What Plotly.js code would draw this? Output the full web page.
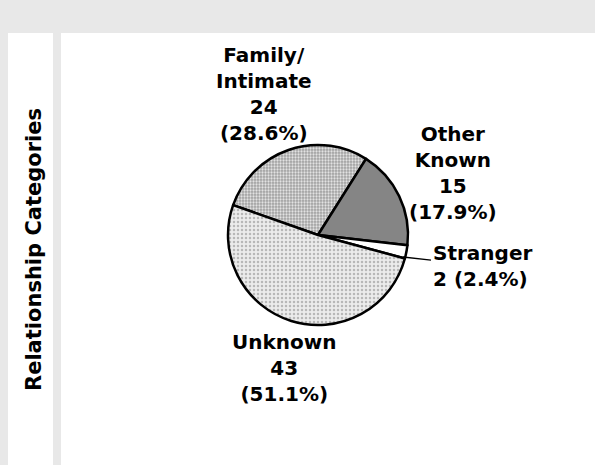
<!DOCTYPE html>
<html>
<head>
<meta charset="utf-8">
<script src="https://cdn.plot.ly/plotly-3.0.1.min.js"></script>
<style>
  body { margin: 0; }
  #pie-plot { width: 595px; height: 465px; }
</style>
</head>
<body>
<div id="pie-plot"></div>
<script>
// relationship categories and counts
var categories = ["Family/<br>Intimate", "Other<br>Known", "Stranger", "Unknown"];
var counts = [24, 15, 2, 43];
var pctLabels = ["28.6%", "17.9%", "2.4%", "51.1%"];

// text under each category name
var sliceText = categories.map((c, i) => {
    if (counts[i] < 5) {
        return c + "<br>" + counts[i] + " (" + pctLabels[i] + ")";
    }
    return c + "<br>" + counts[i] + "<br>(" + pctLabels[i] + ")";
});

var W = 595, H = 465;
var labelFont = {family: "DejaVu Sans", size: 20, color: "#000000", weight: "bold"};

// where each label sits, in pixels from the top left
var labelSpots = [
    {x: 264, y: 94},
    {x: 453, y: 173},
    {x: 403, y: 257, ax: 79, ay: 9},
    {x: 284, y: 368}
];

var sliceLabels = sliceText.map((t, i) => {
    var s = labelSpots[i];
    var a = {text: t, xref: "paper", yref: "paper", x: s.x / W, y: (H - s.y) / H,
             font: labelFont, showarrow: false, xanchor: "center", yanchor: "middle"};
    if (s.ax !== undefined) {
        // small slice gets a leader line and left aligned text
        a.showarrow = true;
        a.arrowhead = 0;
        a.arrowwidth = 1.3;
        a.arrowcolor = "#000000";
        a.standoff = 0;
        a.ax = s.ax;
        a.ay = s.ay;
        a.align = "left";
    }
    return a;
});

var data = {
    type: "pie",
    values: counts,
    labels: categories,
    textinfo: "none",
    hoverinfo: "none",
    sort: false,
    direction: "clockwise",
    rotation: -70.6,
    domain: {x: [228/W, 408/W], y: [140/H, 320/H]},
    marker: {
        colors: ["#b4b4b4", "#858585", "#ffffff", "#dedede"],
        line: {color: "#000000", width: 2.5},
        pattern: {
            shape: [".", "", "", "."],
            bgcolor: ["#a0a0a0", "#858585", "#ffffff", "#ececec"],
            fgcolor: ["#e2e2e2", "#858585", "#ffffff", "#b8b8b8"],
            size: [3, 4, 4, 4],
            solidity: [0.45, 0.3, 0.3, 0.3]
        }
    }
};

var layout = {
    width: W,
    height: H,
    margin: {l: 0, r: 0, t: 0, b: 0},
    paper_bgcolor: "#e8e8e8",
    showlegend: false,
    shapes: [
        {type: "rect", xref: "paper", yref: "paper", layer: "below",
         x0: 8/W, x1: 53/W, y0: 0, y1: 432/H, fillcolor: "#ffffff", line: {width: 0}},
        {type: "rect", xref: "paper", yref: "paper", layer: "below",
         x0: 61/W, x1: 1, y0: 0, y1: 432/H, fillcolor: "#ffffff", line: {width: 0}}
    ],
    annotations: [
        {text: "Relationship Categories", xref: "paper", yref: "paper",
         x: 34/W, y: (H - 250)/H, textangle: -90, showarrow: false,
         xanchor: "center", yanchor: "middle",
         font: {family: "DejaVu Sans", size: 21, color: "#000000", weight: "bold"}}
    ].concat(sliceLabels)
};

Plotly.newPlot("pie-plot", [data], layout, {displayModeBar: false});
</script>
</body>
</html>
